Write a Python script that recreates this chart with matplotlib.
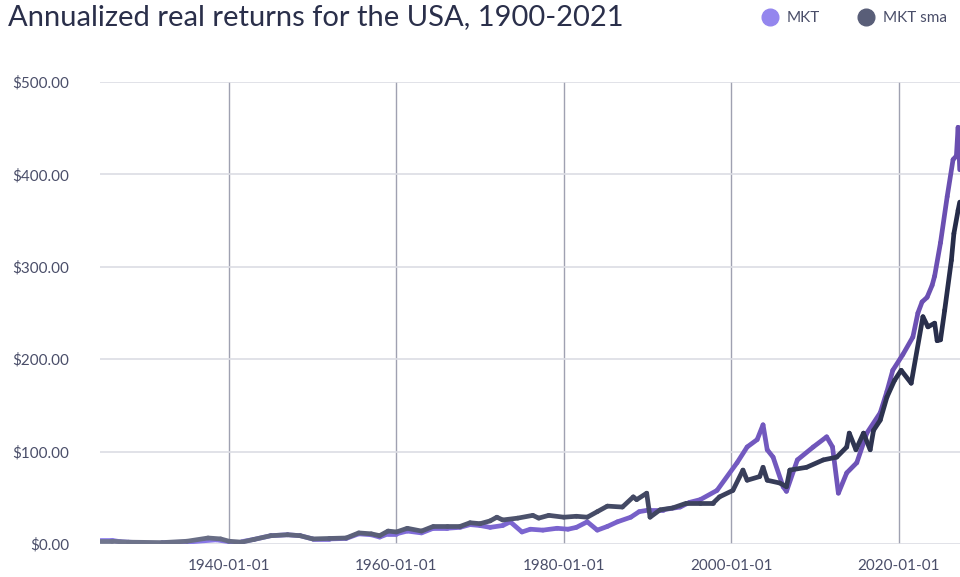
import numpy as np
import matplotlib
matplotlib.use("Agg")
import matplotlib.pyplot as plt
from matplotlib.collections import LineCollection
from matplotlib.colors import to_rgb
from matplotlib.lines import Line2D

# ---------------- data ----------------
mkt_years = [1924.6, 1926, 1927, 1929, 1932, 1935, 1937, 1938.5, 1940, 1941.5, 1943, 1945,
             1947, 1948.5, 1950, 1952, 1954, 1955.5, 1957, 1958, 1959, 1960, 1961.3, 1963,
             1964.4, 1966, 1967.6, 1968.8, 1970, 1971.2, 1972.7, 1973.6, 1975, 1976, 1977.5,
             1979.2, 1980.5, 1981.5, 1982.8, 1984, 1985.2, 1986.4, 1988, 1989, 1990.3, 1991.8,
             1993.9, 1995, 1996.3, 1998.3, 2000.7, 2001.9, 2003.1, 2003.8, 2004.3, 2005,
             2006.2, 2006.6, 2007.9, 2009.8, 2011.4, 2012.1, 2012.8, 2013.8, 2015, 2016.2,
             2017.8, 2018.6, 2019.3, 2020.5, 2021.7, 2022.3, 2022.8, 2023.4, 2024, 2024.3,
             2025, 2025.8, 2026.5, 2026.9, 2027.1, 2027.3]
mkt_values = [4, 4, 2.5, 1.5, 1.5, 2, 3.5, 4.5, 2.5, 2.5, 5, 9,
              10, 9, 5.5, 5.5, 6, 11, 10, 7.5, 11, 11, 14, 12,
              17, 17, 18, 21, 20, 18, 20, 24, 13, 16, 15,
              17, 16, 18, 24, 15, 19, 24, 29, 35, 37, 37,
              40, 45, 48, 58, 88, 105, 113, 129, 102, 94,
              62, 57, 91, 105, 116, 105, 55, 77, 88, 120,
              142, 165, 188, 205, 224, 250, 262, 267, 280, 290,
              326, 376, 416, 420, 451, 405]

sma_years = [1924.6, 1926, 1928, 1932, 1935, 1937.5, 1939, 1940, 1941.5, 1943, 1945, 1947,
             1948.5, 1950, 1952, 1954, 1955.5, 1957, 1958, 1959, 1960, 1961.3, 1963, 1964.4,
             1966, 1967.6, 1968.8, 1970, 1971.2, 1972, 1972.7, 1974.5, 1976.3, 1977, 1978.2,
             1980, 1981.5, 1982.8, 1984, 1985.2, 1987, 1988.3, 1988.7, 1989.9, 1990.3, 1991.5,
             1993, 1994.6, 1996.3, 1997.8, 1998.6, 2000.2, 2001.4, 2001.9, 2003.4, 2003.8,
             2004.3, 2005.8, 2006.6, 2007, 2009, 2011, 2012.6, 2013.8, 2014.1, 2014.9, 2015.8,
             2016.6, 2017, 2017.8, 2018.6, 2019.5, 2020.3, 2021.5, 2022.9, 2023.5, 2024.3,
             2024.6, 2025, 2025.5, 2026.3, 2026.6, 2027.1, 2027.3]
sma_values = [3, 3, 2, 1.5, 3, 6.5, 5.5, 3, 2, 5, 9, 10,
              9, 5.5, 6, 6.5, 12, 11, 9, 14, 13, 17, 14, 19,
              19, 19, 23, 22, 25, 29, 26, 28, 31, 28, 31,
              29, 30, 29, 35, 41, 40, 51, 48, 55, 29, 37,
              39, 44, 44, 44, 51, 58, 80, 69, 73, 83,
              69, 66, 62, 80, 83, 91, 94, 105, 120, 102, 120,
              102, 123, 134, 159, 177, 188, 174, 246, 235, 239,
              220, 221, 253, 307, 336, 361, 370]

tick_years = [1940, 1960, 1980, 2000, 2020]
tick_labels = ["1940-01-01", "1960-01-01", "1980-01-01", "2000-01-01", "2020-01-01"]
y_ticks = [0, 100, 200, 300, 400, 500]
series_names = ["MKT", "MKT sma"]
title = "Annualized real returns for the USA, 1900-2021"

# ---------------- style ----------------
mkt_c0, mkt_c1 = "#8d7df0", "#6a4eb0"
sma_c0, sma_c1 = "#72778e", "#262c49"
text_c = "#4a4e69"
title_c = "#2a2f4a"
FONT = "Lato"

fig = plt.figure(figsize=(9.6, 5.77), dpi=100)
ax = fig.add_axes([100 / 960, 33 / 577, 860 / 960, 462 / 577])
x0, x1 = 1924.59, 2027.33
ax.set_xlim(x0, x1)
ax.set_ylim(0, 500)


def grad_line(xs, ys, c0, c1, lw, z):
    xs = np.asarray(xs, float)
    ys = np.asarray(ys, float)
    pts = np.column_stack([xs, ys]).reshape(-1, 1, 2)
    segs = np.concatenate([pts[:-1], pts[1:]], axis=1)
    mids = (xs[:-1] + xs[1:]) / 2
    t = ((mids - x0) / (x1 - x0))[:, None]
    cols = (1 - t) * np.array(to_rgb(c0)) + t * np.array(to_rgb(c1))
    lc = LineCollection(segs, colors=cols, linewidths=lw, capstyle="round",
                        joinstyle="round", zorder=z)
    ax.add_collection(lc)


grad_line(mkt_years, mkt_values, mkt_c0, mkt_c1, 3.4, 3)
grad_line(sma_years, sma_values, sma_c0, sma_c1, 3.4, 4)

for s in ax.spines.values():
    s.set_visible(False)
ax.set_yticks(y_ticks)
ax.set_yticklabels([f"${v:,.2f}" for v in y_ticks])
ax.set_xticks(tick_years)
ax.set_xticklabels(tick_labels)
ax.tick_params(axis="both", length=0, labelsize=11, labelcolor=text_c)
ax.tick_params(axis="y", pad=22)
ax.tick_params(axis="x", pad=11)
for lab in ax.get_xticklabels() + ax.get_yticklabels():
    lab.set_fontfamily(FONT)
ax.grid(axis="y", color="#dcdde4", linewidth=1.2, zorder=0)
ax.grid(axis="x", color="#9fa1b1", linewidth=1.0, zorder=0)
ax.set_axisbelow(True)

fig.text(8 / 960, 1 - 17 / 577, title, fontsize=21, color=title_c, family=FONT,
         va="center", ha="left")

handles = [Line2D([], [], marker="o", linestyle="", markersize=12, color="#9486ee"),
           Line2D([], [], marker="o", linestyle="", markersize=12, color="#595e78")]
fig.legend(handles, series_names, loc="center left", bbox_to_anchor=(755 / 960, 1 - 18 / 577),
           ncol=2, frameon=False, handletextpad=0.1, columnspacing=2.0,
           prop={"family": FONT, "size": 11}, labelcolor=text_c, borderpad=0, borderaxespad=0)

fig.savefig("out.png", dpi=100)
